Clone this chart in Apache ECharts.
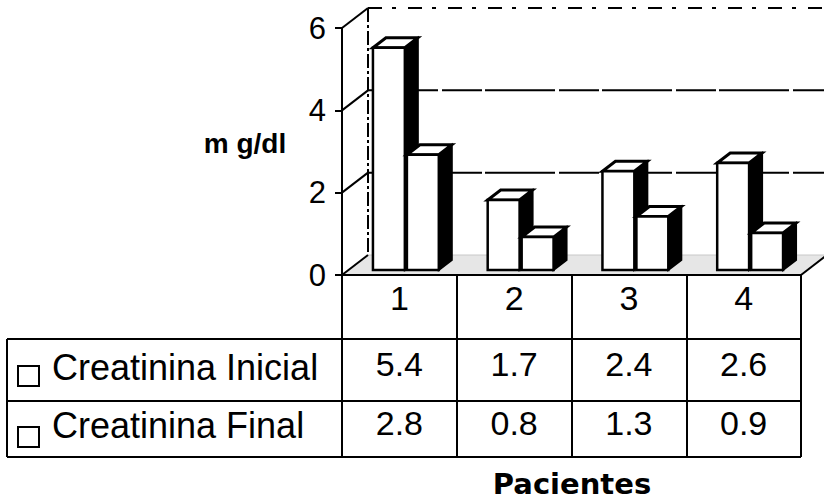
<!DOCTYPE html>
<html><head><meta charset="utf-8">
<script src="https://cdn.jsdelivr.net/npm/echarts@6/dist/echarts.min.js"></script>
<style>html,body{margin:0;padding:0;background:#fff}#c{width:824px;height:504px}</style>
</head><body><div id="c"></div>
<script>
// ---- data ----
const categories = ['1', '2', '3', '4'];
const seriesNames = ['Creatinina Inicial', 'Creatinina Final'];
const inicial = [5.4, 1.7, 2.4, 2.6];
const finalValues = [2.8, 0.8, 1.3, 0.9];
const yTicks = [0, 2, 4, 6];
const yName = 'm g/dl';
const xName = 'Pacientes';

// ---- styling / layout constants ----
const FONT = '"Liberation Sans", Arial, sans-serif';
const WALL_DX = 26, WALL_DY = -20;    // depth of the chart box
const BAR_OX = 6.5, BAR_OY = -5;      // position of the bar front inside the depth
const BAR_DX = 13, BAR_DY = -10;      // depth of the bars

const chart = echarts.init(document.getElementById('c'), null, {renderer: 'svg'});

function wallsRender(params, api) {
  const cs = params.coordSys;
  const left = cs.x, right = cs.x + cs.width;
  const y0 = api.coord([0, 0])[1];
  const yTop = api.coord([0, yTicks[yTicks.length - 1]])[1];
  const ch = [];
  ch.push({type: 'polygon', shape: {points: [[left, y0], [right, y0], [right + WALL_DX, y0 + WALL_DY], [left + WALL_DX, y0 + WALL_DY]]},
    style: {fill: '#e6e6e6', stroke: '#c8c8c8', lineWidth: 1}});
  ch.push({type: 'line', shape: {x1: left + WALL_DX, y1: yTop + WALL_DY, x2: left + WALL_DX, y2: y0 + WALL_DY},
    style: {stroke: '#000', lineWidth: 2, lineDash: [14, 3, 3, 3]}});
  ch.push({type: 'line', shape: {x1: right, y1: y0, x2: right + WALL_DX, y2: y0 + WALL_DY},
    style: {stroke: '#000', lineWidth: 2}});
  yTicks.forEach(function (t, k) {
    const y = api.coord([0, t])[1];
    ch.push({type: 'line', shape: {x1: left, y1: y, x2: left + WALL_DX, y2: y + WALL_DY},
      style: {stroke: '#000', lineWidth: 2}});
    if (t > 0) {
      const top = k === yTicks.length - 1;
      ch.push({type: 'line', shape: {x1: left + WALL_DX, y1: y + WALL_DY, x2: right + WALL_DX, y2: y + WALL_DY},
        style: {stroke: '#000', lineWidth: 2, lineDash: top ? [14, 10, 4, 12] : [70, 4, 40, 3]}});
    }
  });
  return {type: 'group', children: ch};
}

function barRender(seriesIdx) {
  return function (params, api) {
    const c = api.value(0), v = api.value(1);
    const base = api.coord([c, 0]);
    const top = api.coord([c, v]);
    const band = api.size([1, 0])[0];
    const w = band * 0.278, gap = band * 0.018;
    const cx = base[0] + BAR_OX;
    const x0 = seriesIdx === 0 ? cx - gap / 2 - w : cx + gap / 2;
    const yb = base[1] + BAR_OY, yt = top[1] + BAR_OY;
    const x1 = x0 + w;
    return {type: 'group', children: [
      {type: 'polygon', shape: {points: [[x1, yb], [x1 + BAR_DX, yb + BAR_DY], [x1 + BAR_DX, yt + BAR_DY], [x1, yt]]},
        style: {fill: '#000', stroke: '#000', lineWidth: 2}},
      {type: 'polygon', shape: {points: [[x0, yt], [x0 + BAR_DX, yt + BAR_DY], [x1 + BAR_DX, yt + BAR_DY], [x1, yt]]},
        style: {fill: '#fff', stroke: '#000', lineWidth: 3}},
      {type: 'rect', shape: {x: x0, y: yt, width: w, height: yb - yt},
        style: {fill: '#fff', stroke: '#000', lineWidth: 2.5}}
    ]};
  };
}

function tableAxis(data, offset, tickLen, margin) {
  return {
    type: 'category', data: data, position: 'bottom', offset: offset, z: 5,
    axisLine: {show: true, lineStyle: {color: '#000', width: 2}},
    axisTick: {show: true, length: tickLen, inside: false, lineStyle: {color: '#000', width: 2}},
    axisLabel: {show: true, color: '#000', fontFamily: FONT, fontSize: 34, margin: margin, verticalAlign: 'middle', interval: 0},
    splitLine: {show: false}
  };
}

const option = {
  backgroundColor: '#fff',
  animation: false,
  grid: {left: 342, right: 23, top: 28, bottom: 229},
  xAxis: [
    tableAxis(categories, 0, 64, 23),
    tableAxis(inicial.map(v => v.toFixed(1)), 64, 62, 25),
    tableAxis(finalValues.map(v => v.toFixed(1)), 126, 56, 22)
  ],
  yAxis: {
    type: 'value', min: 0, max: 6, interval: 2, z: 5,
    axisLine: {show: true, lineStyle: {color: '#000', width: 2}},
    axisTick: {show: true, length: 7, lineStyle: {color: '#000', width: 2}},
    axisLabel: {color: '#000', fontFamily: FONT, fontSize: 31, margin: 16, padding: [0, 0, 10, 0]},
    splitLine: {show: false}
  },
  series: [
    {type: 'custom', name: 'walls', z: 1, silent: true, xAxisIndex: 0, data: [[0, 0]], renderItem: wallsRender},
    {type: 'custom', name: seriesNames[0], z: 2, xAxisIndex: 0, data: inicial.map((v, i) => [i, v]), encode: {x: 0, y: 1}, renderItem: barRender(0)},
    {type: 'custom', name: seriesNames[1], z: 3, xAxisIndex: 0, data: finalValues.map((v, i) => [i, v]), encode: {x: 0, y: 1}, renderItem: barRender(1)}
  ],
  graphic: [
    // legend column of the data table
    {type: 'line', shape: {x1: 7, y1: 339, x2: 342, y2: 339}, style: {stroke: '#000', lineWidth: 2}},
    {type: 'line', shape: {x1: 7, y1: 401, x2: 342, y2: 401}, style: {stroke: '#000', lineWidth: 2}},
    {type: 'line', shape: {x1: 7, y1: 457, x2: 801, y2: 457}, style: {stroke: '#000', lineWidth: 2}},
    {type: 'line', shape: {x1: 7, y1: 339, x2: 7, y2: 457}, style: {stroke: '#000', lineWidth: 2}},
    {type: 'rect', shape: {x: 18, y: 366, width: 21, height: 20}, style: {fill: '#fff', stroke: '#000', lineWidth: 2}},
    {type: 'rect', shape: {x: 18, y: 427, width: 21, height: 20}, style: {fill: '#fff', stroke: '#000', lineWidth: 2}},
    {type: 'text', x: 52, y: 367, style: {text: seriesNames[0], fill: '#000', font: '36px ' + FONT, verticalAlign: 'middle'}},
    {type: 'text', x: 52, y: 425, style: {text: seriesNames[1], fill: '#000', font: '36px ' + FONT, verticalAlign: 'middle'}},
    // axis titles
    {type: 'text', x: 245, y: 143, style: {text: yName, fill: '#000', font: 'bold 28px ' + FONT, align: 'center', verticalAlign: 'middle'}},
    {type: 'text', x: 572, y: 484, style: {text: xName, fill: '#000', font: 'bold 29px "DejaVu Sans", sans-serif', align: 'center', verticalAlign: 'middle'}}
  ]
};
chart.setOption(option);
</script>
</body></html>
